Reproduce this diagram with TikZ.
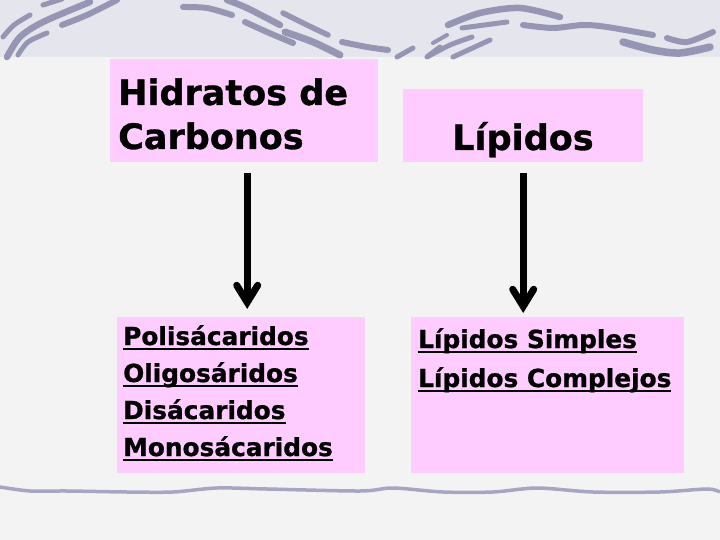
\documentclass[tikz,border=0pt]{standalone}
\usepackage{fontspec}
\setmainfont{DejaVu Sans}[BoldFeatures={FakeBold=1}]
\usetikzlibrary{arrows.meta}
\definecolor{bg}{RGB}{243,243,243}
\definecolor{band}{RGB}{229,229,237}
\definecolor{brush}{RGB}{150,150,180}
\definecolor{lineclr}{RGB}{166,166,194}
\definecolor{pinkbox}{RGB}{255,204,255}
\newcommand{\myul}[1]{\setbox0\hbox{#1}\rlap{\rule[-5.3pt]{\wd0}{2.6pt}}\box0}
\begin{document}
\begin{tikzpicture}[x=1pt,y=-1pt,
  boxst/.style={fill=pinkbox, draw=none, inner sep=0pt, anchor=north west},
  big/.style={font=\fontsize{35}{42}\selectfont\bfseries, inner sep=0pt, anchor=base west},
  small/.style={font=\fontsize{24.8}{30}\selectfont\bfseries, inner sep=0pt, anchor=base west},
  brushst/.style={draw=brush, line cap=round, line join=round, line width=#1},
  brushst/.default=5pt,
  arr/.style={line width=7pt},
  headst/.style={line width=7pt, line cap=round, line join=miter}]
\useasboundingbox (0,0) rectangle (720,540);
\clip (0,0) rectangle (720,540);
% background
\fill[bg] (0,0) rectangle (720,540);
\fill[band] (0,0) rectangle (720,57);
% brush strokes (top)
\draw[brushst=5pt] plot[smooth] coordinates {(3,37) (14,25) (30,15)};
\draw[brushst=6.5pt] plot[smooth] coordinates {(7,57) (20,37) (43,22) (90,2)};
\draw[brushst=5pt] plot[smooth] coordinates {(43,5) (62,-1)};
\draw[brushst=6pt] plot[smooth] coordinates {(62,25) (87,15) (117,0)};
\draw[brushst=5pt] plot[smooth] coordinates {(18,55) (28,42) (47,33)};
\draw[brushst=6pt] plot[smooth] coordinates {(183,7) (207,8) (232,15)};
\draw[brushst=6.5pt] plot[smooth] coordinates {(227,0) (247,8) (280,25)};
\draw[brushst=6pt] plot[smooth] coordinates {(245,22) (267,32) (293,43)};
\draw[brushst=5.5pt] plot[smooth] coordinates {(283,13) (307,25) (328,35)};
\draw[brushst=7pt] plot[smooth] coordinates {(285,32) (313,42) (340,55)};
\draw[brushst=6pt] plot[smooth] coordinates {(342,42) (367,47) (388,50)};
\draw[brushst=5pt] plot[smooth] coordinates {(397,57) (413,48)};
\draw[brushst=5pt] plot[smooth] coordinates {(428,56) (440,47)};
\draw[brushst=6.5pt] plot[smooth] coordinates {(448,25) (480,13) (520,8) (560,17)};
\draw[brushst=5pt] plot[smooth] coordinates {(462,28) (507,22)};
\draw[brushst=4pt] plot[smooth] coordinates {(433,43) (447,35)};
\draw[brushst=5pt] plot[smooth] coordinates {(427,57) (450,45) (472,37)};
\draw[brushst=5pt] plot[smooth] coordinates {(453,57) (490,40)};
\draw[brushst=6pt] plot[smooth] coordinates {(523,25) (553,28) (583,25) (607,27) (653,35)};
\draw[brushst=7.5pt] plot[smooth] coordinates {(623,42) (653,50) (680,53) (710,47)};
\draw[brushst=6pt] plot[smooth] coordinates {(667,38) (687,42) (713,32)};
% bottom line
\draw[draw=lineclr, line width=3.5pt] plot[smooth] coordinates {(0,487) (30,491) (67,491) (127,492) (173,492) (217,488) (267,489) (360,491) (393,488) (443,492) (493,492) (537,488) (593,492) (660,492) (707,489) (720,492)};
% boxes
\node[boxst, minimum width=268pt, minimum height=103pt] (h) at (110,59) {};
\node[boxst, minimum width=240pt, minimum height=73pt] (l) at (403,89) {};
\node[boxst, minimum width=248pt, minimum height=156pt] (p) at (117,317) {};
\node[boxst, minimum width=273pt, minimum height=156pt] (s) at (411,317) {};
% texts
\node[big] (ht1) at (118,105) {Hidratos de};
\node[big] (ht2) at (118,149) {Carbonos};
\node[big, anchor=base] (lt) at (523,150) {Lípidos};
\node[small] (p1) at (123,345) {\myul{Polisácaridos}};
\node[small] (p2) at (123,382) {\myul{Oligosáridos}};
\node[small] (p3) at (123,419) {\myul{Disácaridos}};
\node[small] (p4) at (123,456) {\myul{Monosácaridos}};
\node[small] (s1) at (418,348) {\myul{Lípidos Simples}};
\node[small] (s2) at (418,387) {\myul{Lípidos Complejos}};
% arrows
\coordinate (a1) at ([xshift=3pt,yshift=14.7pt]h.south |- p.north);
\coordinate (a2) at ([yshift=10.7pt]l.south |- s.north);
\draw[arr] ([xshift=3pt,yshift=-11pt]h.south) -- (a1);
\draw[headst] ([shift={(-10.5pt,17pt)}]a1) -- (a1) -- ([shift={(10.5pt,17pt)}]a1);
\draw[arr] ([yshift=-11pt]l.south) -- (a2);
\draw[headst] ([shift={(-10.5pt,17pt)}]a2) -- (a2) -- ([shift={(10.5pt,17pt)}]a2);
\end{tikzpicture}
\end{document}
